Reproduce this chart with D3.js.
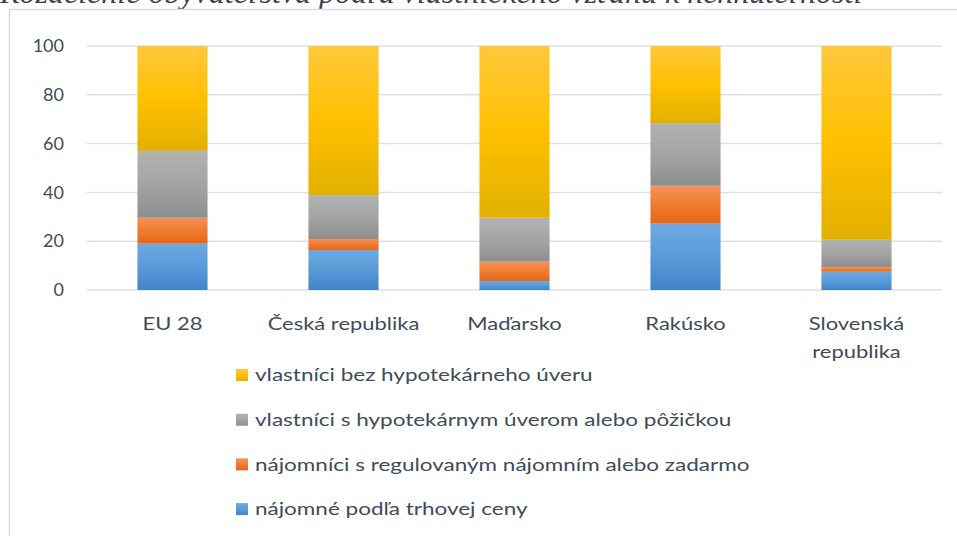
<!DOCTYPE html>
<html>
<head>
<meta charset="utf-8">
<script src="https://cdn.jsdelivr.net/npm/d3@7"></script>
<style>
  html, body { margin: 0; padding: 0; background: #fff; }
  svg { display: block; }
</style>
</head>
<body>
<svg id="chart" width="957" height="536"></svg>
<script>
// Housing tenure status shares (%)
const categories = ["EU 28", "Česká republika", "Maďarsko", "Rakúsko", "Slovenská republika"];
const seriesNames = [
  "nájomné podľa trhovej ceny",
  "nájomníci s regulovaným nájomním alebo zadarmo",
  "vlastníci s hypotekárnym úverom alebo pôžičkou",
  "vlastníci bez hypotekárneho úveru"
];
const marketRent   = [19.0, 16.4, 3.7, 27.2, 7.5];
const reducedRent  = [10.6, 4.5, 7.9, 15.5, 1.9];
const ownerLoan    = [27.4, 18.0, 18.0, 25.7, 11.2];
const ownerNoLoan  = [43.0, 61.1, 70.4, 31.6, 79.4];
const yTicks = [0, 20, 40, 60, 80, 100];
const title = "Rozdelenie obyvateľstva podľa vlastníckeho vzťahu k nehnuteľnosti";

const seriesValues = [marketRent, reducedRent, ownerLoan, ownerNoLoan];
// gradient stops per series: light top, base, dark bottom
const gradStops = [
  ["#6fa8e0", "#5a9ad9", "#4184c8"],
  ["#f5925a", "#f07c2e", "#e1661a"],
  ["#b2b2b2", "#a4a4a4", "#8e8e8e"],
  ["#ffc83c", "#ffc000", "#e2b000"]
];

const svg = d3.select("#chart");
const textColor = "#404b5a";
const font = "Lato, 'Open Sans', sans-serif";
const wide = "scale(1.22,1)";       // widen label glyphs horizontally
const wideLegend = "scale(1.25,1)";

const defs = svg.append("defs");
gradStops.forEach((s, i) => {
  const g = defs.append("linearGradient")
    .attr("id", "grad" + i)
    .attr("x1", 0).attr("y1", 0).attr("x2", 0).attr("y2", 1);
  g.append("stop").attr("offset", "0%").attr("stop-color", s[0]);
  g.append("stop").attr("offset", "50%").attr("stop-color", s[1]);
  g.append("stop").attr("offset", "100%").attr("stop-color", s[2]);
});

// heading line above the chart frame
svg.append("text")
  .attr("x", 0).attr("y", 3)
  .attr("font-family", "'Liberation Serif', 'Times New Roman', serif")
  .attr("font-style", "italic")
  .attr("font-size", 32)
  .attr("fill", "#3b4250")
  .text(title);

// chart frame
svg.append("rect")
  .attr("x", 9.5).attr("y", 9.5)
  .attr("width", 970).attr("height", 560)
  .attr("fill", "#fff")
  .attr("stroke", "#d9dde3")
  .attr("stroke-width", 1.5);

const x = d3.scaleBand().domain(categories).range([87, 942]).paddingInner(0.59).paddingOuter(0.295);
const y = d3.scaleLinear().domain([0, 100]).range([290, 46]);

// gridlines
svg.append("g").selectAll("line").data(yTicks).join("line")
  .attr("x1", 87).attr("x2", 942)
  .attr("y1", d => y(d)).attr("y2", d => y(d))
  .attr("stroke", "#dde1e7").attr("stroke-width", 1.5);

// y-axis
const yAxis = svg.append("g")
  .attr("transform", "translate(64,0)")
  .call(d3.axisLeft(y).tickValues(yTicks).tickSize(0).tickPadding(0));
yAxis.select(".domain").remove();
yAxis.selectAll("text")
  .attr("font-family", font).attr("font-size", 18).attr("fill", textColor);

// stacked bars
const rows = categories.map((c, i) => {
  const r = { cat: c };
  seriesNames.forEach((s, j) => r[s] = seriesValues[j][i]);
  return r;
});
const stacked = d3.stack().keys(seriesNames)(rows);
svg.append("g").selectAll("g").data(stacked).join("g")
  .attr("fill", (d, i) => `url(#grad${i})`)
  .selectAll("rect").data(d => d).join("rect")
  .attr("x", d => x(d.data.cat))
  .attr("width", x.bandwidth())
  .attr("y", d => y(d[1]))
  .attr("height", d => y(d[0]) - y(d[1]));

// x-axis labels
const xAxis = svg.append("g")
  .attr("transform", "translate(0,290)")
  .call(d3.axisBottom(x).tickSize(0).tickPadding(0));
xAxis.select(".domain").remove();
xAxis.selectAll(".tick text").each(function(d) {
  const t = d3.select(this).text(null)
    .attr("font-family", font).attr("font-size", 18).attr("fill", textColor)
    .attr("transform", wide)
    .attr("y", 0).attr("dy", null);
  const parts = d === "Slovenská republika" ? ["Slovenská", "republika"] : [d];
  parts.forEach((p, k) => {
    t.append("tspan").attr("x", 0).attr("y", 40 + k * 28).text(p);
  });
});

// legend (top to bottom: reverse series order)
const legendOrder = seriesNames.map((s, i) => i).reverse();
const leg = svg.append("g").selectAll("g").data(legendOrder).join("g")
  .attr("transform", (d, k) => `translate(236,${375 + k * 44.7})`);
leg.append("rect")
  .attr("x", 0).attr("y", -6).attr("width", 12).attr("height", 12)
  .attr("fill", d => `url(#grad${d})`);
leg.append("g").attr("transform", "translate(19,0)")
  .append("text")
  .attr("transform", wideLegend)
  .attr("x", 0).attr("y", 0).attr("dy", "0.35em")
  .attr("font-family", font).attr("font-size", 18).attr("fill", textColor)
  .text(d => seriesNames[d]);
</script>
</body>
</html>
